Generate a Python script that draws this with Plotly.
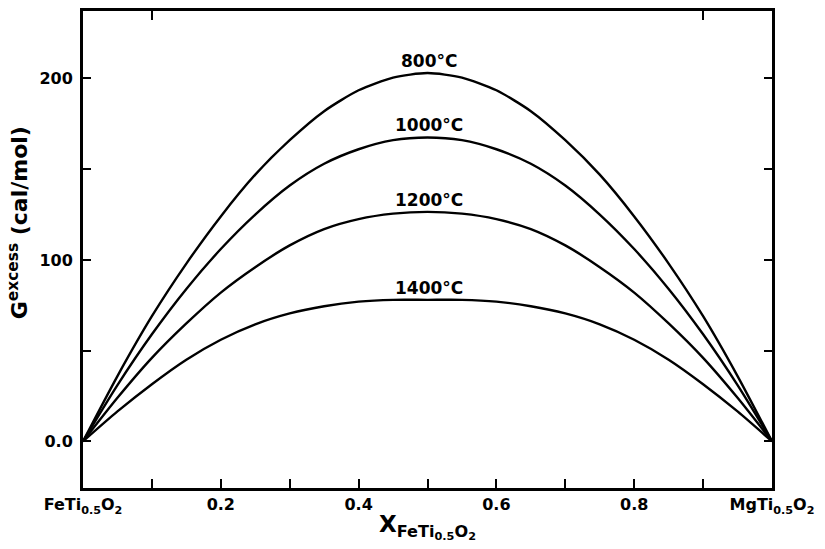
import plotly.graph_objects as go

# Composition X(FeTi0.5O2) and excess Gibbs energy (cal/mol) at each temperature
x_frac = [0.00, 0.05, 0.10, 0.15, 0.20, 0.25, 0.30, 0.35, 0.40, 0.45, 0.50,
          0.55, 0.60, 0.65, 0.70, 0.75, 0.80, 0.85, 0.90, 0.95, 1.00]
g_800 = [0, 36, 69, 98, 124, 147, 166, 182, 193.5, 200.5, 203,
         200.5, 193.5, 182, 166, 147, 124, 98, 69, 36, 0]
g_1000 = [0, 31, 59, 84, 106, 125, 141, 153, 161, 166, 167.5,
          166, 161, 153, 141, 125, 106, 84, 59, 31, 0]
g_1200 = [0, 24, 46, 65, 82, 96, 108, 117, 122.5, 125.5, 126.5,
          125.5, 122.5, 117, 108, 96, 82, 65, 46, 24, 0]
g_1400 = [0, 16.5, 31.5, 45, 56, 64.5, 70.5, 74.5, 77, 78, 78,
          78, 77, 74.5, 70.5, 64.5, 56, 45, 31.5, 16.5, 0]

temps = ["800", "1000", "1200", "1400"]
series = [g_800, g_1000, g_1200, g_1400]

x_tickvals = [0, 0.2, 0.4, 0.6, 0.8, 1.0]
x_ticktext = ["FeTi<sub>0.5</sub>O<sub>2</sub>", "0.2", "0.4", "0.6", "0.8",
              "MgTi<sub>0.5</sub>O<sub>2</sub>"]
x_minor = [0.1, 0.2, 0.3, 0.4, 0.5, 0.6, 0.7, 0.8, 0.9]
x_top_ticks = [0.1, 0.9]
y_tickvals = [0, 50, 100, 150, 200]
y_ticktext = ["0.0", "", "100", "", "200"]

FONT = "DejaVu Sans"
fig = go.Figure()

for t, g in zip(temps, series):
    fig.add_trace(go.Scatter(
        x=x_frac, y=g, mode="lines",
        line=dict(color="black", width=2.4, shape="spline", smoothing=0.7),
        showlegend=False, hoverinfo="skip",
    ))
    fig.add_annotation(
        x=0.5, y=max(g), xref="x", yref="y",
        text=f"{t}°C", showarrow=False,
        yanchor="middle", yshift=12, xshift=1,
        font=dict(family=FONT, size=17, color="black", weight="bold"),
    )

# invisible trace to activate the top axis used for its two tick marks
fig.add_trace(go.Scatter(x=[None], y=[None], xaxis="x2", showlegend=False,
                         hoverinfo="skip"))

tick_font = dict(family=FONT, size=16, color="black", weight="bold")

fig.update_layout(
    width=825, height=549,
    margin=dict(l=83, r=53, t=8, b=61),
    paper_bgcolor="white", plot_bgcolor="white",
    font=dict(family=FONT, size=16, color="black", weight="bold"),
    xaxis=dict(
        range=[0, 1], tickvals=x_tickvals, ticktext=x_ticktext,
        ticks="inside", ticklen=9, tickwidth=2, tickcolor="black",
        minor=dict(tickvals=x_minor, ticks="inside", ticklen=9,
                   tickwidth=2, tickcolor="black"),
        showline=True, linewidth=3, linecolor="black", mirror=True,
        showgrid=False, zeroline=False, tickfont=tick_font,
    ),
    xaxis2=dict(
        range=[0, 1], overlaying="x", side="top",
        tickvals=x_top_ticks, ticks="inside", ticklen=9, tickwidth=2,
        tickcolor="black", showticklabels=False, showline=False,
        showgrid=False, zeroline=False,
    ),
    yaxis=dict(
        range=[-25.7, 237.2], tickvals=y_tickvals, ticktext=y_ticktext,
        ticks="inside", ticklen=8, tickwidth=2, tickcolor="black",
        showline=True, linewidth=3, linecolor="black", mirror="ticks",
        showgrid=False, zeroline=False, ticklabelstandoff=4,
        tickfont=tick_font,
    ),
)

# axis titles
fig.add_annotation(
    x=0, y=0.555, xref="paper", yref="paper", xanchor="center", yanchor="middle",
    xshift=-65, textangle=-90, showarrow=False,
    text="G<sup>excess</sup> (cal/mol)",
    font=dict(family=FONT, size=22, color="black", weight="bold"),
)
fig.add_annotation(
    x=0.5, y=-0.082, xref="paper", yref="paper", xanchor="center",
    yanchor="middle", showarrow=False,
    text="X<sub>FeTi<sub>0.5</sub>O<sub>2</sub></sub>",
    font=dict(family=FONT, size=23, color="black", weight="bold"),
)

fig.write_html("out.html")
